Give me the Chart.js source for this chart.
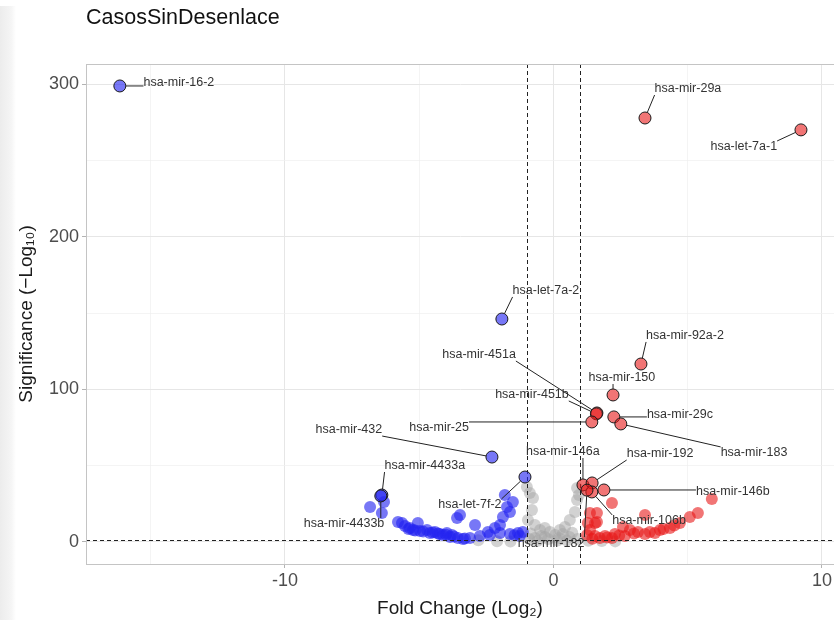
<!DOCTYPE html>
<html><head><meta charset="utf-8">
<script src="https://cdn.jsdelivr.net/npm/chart.js@4/dist/chart.umd.min.js"></script>
<style>
html,body{margin:0;padding:0;background:#fff;}
#wrap{position:relative;width:834px;height:620px;overflow:hidden;}
#strip{position:absolute;left:0;top:6px;width:16px;height:614px;background:linear-gradient(to right,#ececec,#f5f5f5 70%,#ffffff);}
canvas{position:absolute;left:0;top:0;}
</style></head><body>
<div id="wrap"><div id="strip"></div><canvas id="c" width="834" height="620"></canvas></div>
<script>
const chartTitle = 'CasosSinDesenlace';
const xTitle = 'Fold Change (Log\u2082)';
const yTitle = 'Significance (\u2212Log\u2081\u2080)';
const foldCutoff = 1;
const sigCutoff = 1.3;

const grayFC  = [-0.99,-0.88,-0.76,-0.80,-0.95,-0.69,-0.50,-0.32,-0.13,0.06,0.24,0.43,0.61,0.80,0.88,0.88,0.95,-0.32,-0.69,-0.90,-2.8,-2.1,-1.6,0.2,0.6,0.9,1.3,1.8,2.3,-0.45,-0.2,0.35,0.7,-0.85,0.15,-0.6,0.5];
const graySig = [36.0,32.1,28.9,21.0,14.4,11.1,7.9,9.2,6.6,4.6,7.9,9.8,14.4,19.7,27.5,35.4,30.8,3.3,2.6,2.0,1.2,0.5,0.3,2.6,3.3,1.9,0.8,0.6,0.4,4.0,2.0,5.2,6.0,5.5,1.0,0.6,0.9];

const blueFC  = [-6.83,-6.39,-6.31,-5.79,-5.64,-5.53,-5.35,-5.05,-5.23,-4.97,-4.71,-4.60,-4.41,-4.23,-4.12,-3.97,-3.85,-3.78,-3.59,-3.48,-3.56,-3.37,-3.11,-2.92,-2.74,-2.44,-2.37,-2.18,-1.99,-1.88,-1.73,-1.62,-1.51,-1.81,-1.99,-1.62,-1.32,-1.14,-5.4,-5.15,-4.85,-4.5,-4.3,-4.0,-3.7,-3.3,-1.45,-1.25];
const blueSig = [23.0,19.0,26.2,13.1,12.5,10.5,9.2,12.5,7.9,7.2,7.9,5.9,6.6,5.2,4.6,5.9,3.3,4.6,15.7,17.7,2.6,2.0,2.6,11.1,3.9,6.6,4.6,9.2,11.1,16.4,23.0,19.7,26.2,30.8,5.9,5.2,5.9,6.6,8.5,7.6,6.8,6.2,5.6,4.8,3.6,2.3,4.5,4.0];

const redFC  = [2.18,1.36,1.62,1.55,1.28,1.62,1.36,1.25,1.55,1.92,2.29,2.59,2.85,3.41,3.15,3.59,3.97,4.34,4.71,5.08,5.38,5.90,2.66,3.41,3.78,1.73,2.18,1.45,2.0,2.45,3.0,4.1,4.5];
const redSig = [25.6,19.0,19.0,12.5,12.5,13.1,7.9,4.6,3.9,3.9,5.2,9.8,7.9,17.7,6.6,6.6,7.9,9.2,12.5,16.4,19.0,28.2,3.9,5.2,5.9,2.6,2.6,2.2,3.0,4.3,5.5,8.5,10.8];

const labelNames = ['hsa-mir-16-2','hsa-mir-29a','hsa-let-7a-1','hsa-let-7a-2','hsa-mir-92a-2','hsa-mir-451a','hsa-mir-150','hsa-mir-451b','hsa-mir-25','hsa-mir-29c','hsa-mir-183','hsa-mir-432','hsa-mir-4433a','hsa-mir-4433b','hsa-let-7f-2','hsa-mir-146a','hsa-mir-192','hsa-mir-146b','hsa-mir-106b','hsa-mir-182'];
const labelFC  = [-16.15,3.41,9.22,-1.92,3.26,1.62,2.22,1.60,1.43,2.25,2.51,-2.29,-6.39,-6.43,-1.06,1.10,1.44,1.88,1.43,1.25];
const labelSig = [299.0,278.0,270.2,146.2,116.7,84.6,96.4,84.0,78.7,82.0,77.4,55.7,30.8,30.2,42.6,37.4,38.7,34.1,32.8,34.0];
const labelTextFC  = [-13.95,5.01,7.09,-0.28,4.90,-2.77,2.55,-0.80,-4.26,4.71,7.47,-7.62,-4.79,-7.80,-3.11,0.35,3.97,6.68,3.56,-0.09];
const labelTextSig = [301.0,297.0,259.0,164.6,135.1,122.6,107.5,96.4,74.8,83.3,58.4,73.4,49.8,11.8,24.3,59.0,57.7,33.4,13.8,-0.7];

const xTicksMajor = [-10, 0, 10];
const yTicksMajor = [0, 100, 200, 300];

const FONT = "'Liberation Sans', Arial, Helvetica, sans-serif";
const LABEL_FONT = '12.5px ' + FONT;
const POINT_R = 6;
const toPts = (xs, ys) => xs.map((x, i) => ({x, y: ys[i]}));
const lblDown = [], lblUp = [];
labelFC.forEach((x, i) => { (x > 0 ? lblUp : lblDown).push({x, y: labelSig[i]}); });

const BLUE = 'rgba(35,35,240,0.62)';
const RED = 'rgba(232,25,25,0.6)';
const GRAY = 'rgba(165,165,165,0.5)';

const overlay = {
  id: 'overlay',
  afterDatasetDraw(chart, args) {
    if (args.index !== 2) return;
    const {ctx, chartArea: a, scales: {x, y}} = chart;
    ctx.save();
    ctx.beginPath(); ctx.rect(a.left, a.top, a.right - a.left, a.bottom - a.top); ctx.clip();
    ctx.strokeStyle = '#222'; ctx.lineWidth = 1; ctx.setLineDash([4, 3]);
    [-foldCutoff, foldCutoff].forEach(v => {
      const px = Math.round(x.getPixelForValue(v)) + 0.5;
      ctx.beginPath(); ctx.moveTo(px, a.top); ctx.lineTo(px, a.bottom); ctx.stroke();
    });
    const py = Math.round(y.getPixelForValue(sigCutoff)) + 0.5;
    ctx.beginPath(); ctx.moveTo(a.left, py); ctx.lineTo(a.right, py); ctx.stroke();
    ctx.setLineDash([]);
    ctx.font = LABEL_FONT;
    ctx.strokeStyle = '#222'; ctx.lineWidth = 1;
    labelNames.forEach((name, i) => {
      const px = x.getPixelForValue(labelFC[i]), ppy = y.getPixelForValue(labelSig[i]);
      const cx = x.getPixelForValue(labelTextFC[i]), cy = y.getPixelForValue(labelTextSig[i]);
      const w = ctx.measureText(name).width;
      const x0 = cx - w / 2, x1 = cx + w / 2, y0 = cy - 6, y1 = cy + 6;
      const bx = Math.min(Math.max(px, x0), x1), by = Math.min(Math.max(ppy, y0), y1);
      const d = Math.hypot(bx - px, by - ppy);
      if (d < 9) return;
      const sx = px + (bx - px) / d * POINT_R, sy = ppy + (by - ppy) / d * POINT_R;
      ctx.beginPath(); ctx.moveTo(sx, sy); ctx.lineTo(bx, by); ctx.stroke();
    });
    ctx.restore();
  },
  afterDatasetsDraw(chart) {
    const {ctx, chartArea: a, scales: {x, y}} = chart;
    ctx.save();
    ctx.font = LABEL_FONT;
    ctx.fillStyle = '#333'; ctx.textAlign = 'center'; ctx.textBaseline = 'middle';
    labelNames.forEach((name, i) => {
      ctx.fillText(name, x.getPixelForValue(labelTextFC[i]), y.getPixelForValue(labelTextSig[i]));
    });
    ctx.strokeStyle = '#c4c4c4'; ctx.lineWidth = 1;
    ctx.strokeRect(a.left + 0.5, a.top + 0.5, a.right - a.left, a.bottom - a.top);
    ctx.restore();
  }
};

const gridColor = ctx => (ctx.tick && [...xTicksMajor, ...yTicksMajor].includes(ctx.tick.value)) ? '#e6e6e6' : '#efefef';

new Chart(document.getElementById('c'), {
  type: 'scatter',
  data: {
    datasets: [
      {label: 'labeled down', data: lblDown, backgroundColor: BLUE, borderColor: '#1a1a1a', borderWidth: 1, pointRadius: POINT_R},
      {label: 'labeled up', data: lblUp, backgroundColor: RED, borderColor: '#1a1a1a', borderWidth: 1, pointRadius: POINT_R},
      {label: 'up', data: toPts(redFC, redSig), backgroundColor: RED, borderWidth: 0, pointRadius: POINT_R},
      {label: 'down', data: toPts(blueFC, blueSig), backgroundColor: BLUE, borderWidth: 0, pointRadius: POINT_R},
      {label: 'ns', data: toPts(grayFC, graySig), backgroundColor: GRAY, borderWidth: 0, pointRadius: POINT_R}
    ]
  },
  options: {
    responsive: false, animation: false, events: [],
    layout: {autoPadding: false, padding: {left: 12, right: 0, top: 0, bottom: 0}},
    plugins: {
      legend: {display: false}, tooltip: {enabled: false},
      title: {display: true, text: chartTitle, align: 'start', fullSize: false, color: '#111',
        font: {family: FONT, size: 21.5, weight: 'normal'}, padding: {top: 5, bottom: 33.2}}
    },
    scales: {
      x: {
        type: 'linear', min: -17.41, max: 10.45,
        afterFit: s => { s.height = 56; s.paddingLeft = 0; s.paddingRight = 0; },
        ticks: {stepSize: 5, includeBounds: false, autoSkip: false, maxRotation: 0, padding: 2,
          color: '#4d4d4d', font: {family: FONT, size: 18},
          callback: v => xTicksMajor.includes(v) ? String(v) : ''},
        grid: {color: gridColor, lineWidth: c => (c.tick && xTicksMajor.includes(c.tick.value)) ? 1 : 0.7,
          tickLength: 4, tickColor: c => (c.tick && xTicksMajor.includes(c.tick.value)) ? '#b3b3b3' : 'rgba(0,0,0,0)'},
        border: {display: true, color: '#c4c4c4'},
        title: {display: true, text: xTitle, color: '#1a1a1a', font: {family: FONT, size: 19}, padding: {top: 0, bottom: 0}}
      },
      y: {
        type: 'linear', min: -14.43, max: 313.4,
        afterFit: s => { s.width = 74; s.paddingTop = 0; s.paddingBottom = 0; },
        ticks: {stepSize: 50, includeBounds: false, autoSkip: false, padding: 3,
          color: '#4d4d4d', font: {family: FONT, size: 18},
          callback: v => yTicksMajor.includes(v) ? String(v) : ''},
        grid: {color: gridColor, lineWidth: c => (c.tick && yTicksMajor.includes(c.tick.value)) ? 1 : 0.7,
          tickLength: 4, tickColor: c => (c.tick && yTicksMajor.includes(c.tick.value)) ? '#b3b3b3' : 'rgba(0,0,0,0)'},
        border: {display: true, color: '#c4c4c4'},
        title: {display: true, text: yTitle, color: '#1a1a1a', font: {family: FONT, size: 19}, padding: {top: 3, bottom: 0}}
      }
    }
  },
  plugins: [overlay]
});
</script>
</body></html>
